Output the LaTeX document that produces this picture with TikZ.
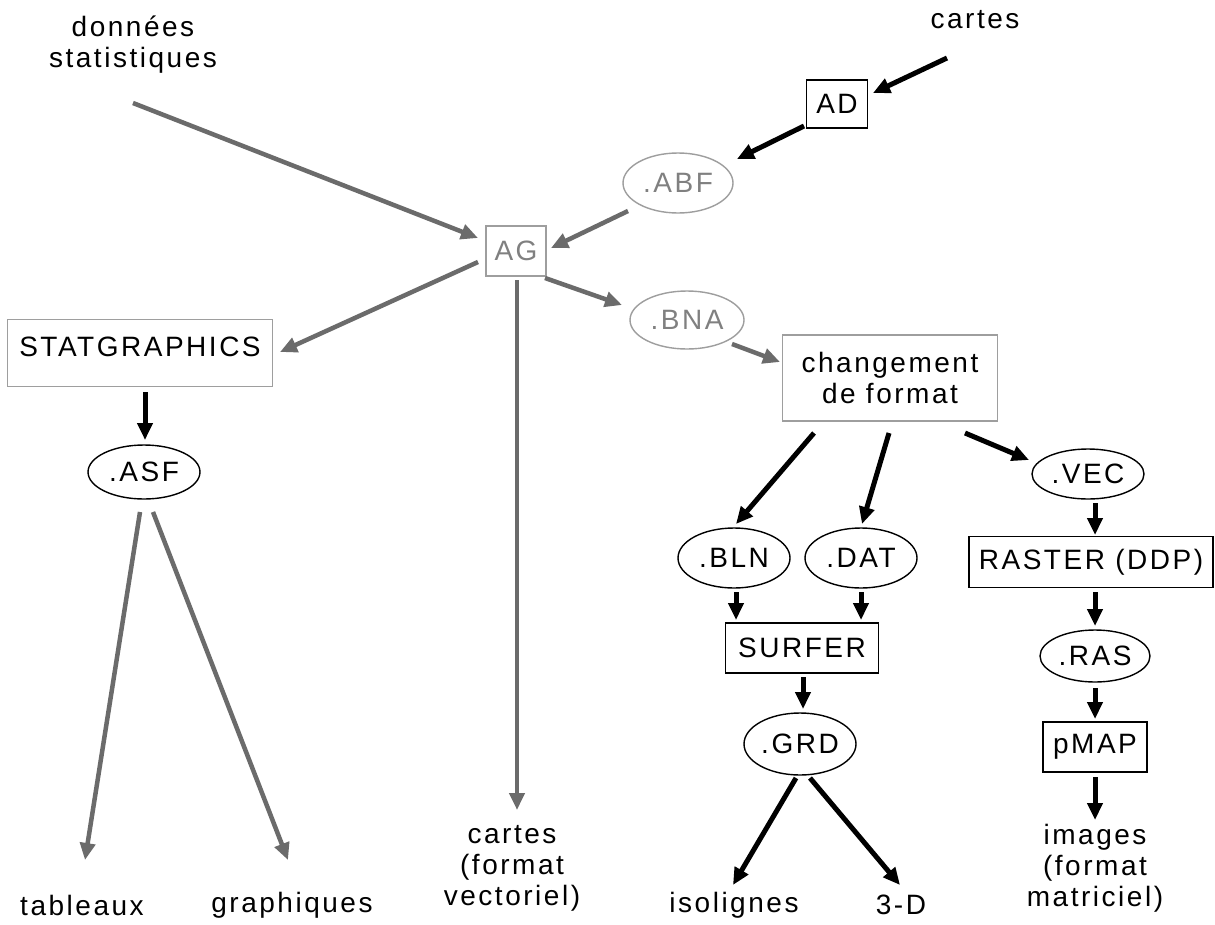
\documentclass[tikz,border=0pt]{standalone}
\usepackage{fontspec}
\setmainfont{Liberation Sans}[LetterSpace=9]
\usetikzlibrary{arrows.meta,shapes.geometric}
\definecolor{garrow}{gray}{0.42}
\definecolor{gline}{gray}{0.62}
\definecolor{gtext}{gray}{0.5}
\begin{document}
\begin{tikzpicture}[x=1pt,y=-1pt,
  fnt/.style={font=\fontsize{28}{31}\selectfont},
  txt/.style={fnt, align=center, inner sep=0pt},
  bbox/.style={fnt, rectangle, draw=black, line width=1.4pt, inner sep=0pt, align=center},
  gbox/.style={fnt, rectangle, draw=gline, line width=1.4pt, inner sep=0pt, align=center},
  bell/.style={fnt, ellipse, draw=black, line width=1.4pt, inner sep=0pt},
  gell/.style={fnt, ellipse, draw=gline, line width=1.4pt, text=gtext, inner sep=0pt},
  barr/.style={draw=black, line width=5pt, -{Triangle[length=17pt,width=15pt]}},
  garr/.style={draw=garrow, line width=4.5pt, -{Triangle[length=17pt,width=15pt]}}
]
\useasboundingbox[fill=white] (0,0) rectangle (1215,924);

% nodes
\node[txt] (donnees) at (133,45) {données\\statistiques};
\node[txt] (cartesT) at (975,20) {cartes};
\node[bbox, minimum width=61, minimum height=48] (AD) at (837,104) {AD};
\node[gell, minimum width=110, minimum height=60] (ABF) at (678,183) {.ABF};
\node[gbox, text=gtext, minimum width=60, minimum height=50] (AG) at (516,251) {AG};
\node[gbox, minimum width=265, minimum height=67, text height=22, text depth=16] (STAT) at (140,353) {STATGRAPHICS};
\node[bell, minimum width=112, minimum height=54] (ASF) at (144,472) {.ASF};
\node[txt] (tableaux) at (82,905) {tableaux};
\node[txt] (graphiques) at (292,905) {graphiques};
\node[txt] (cartesV) at (512,868) {cartes\\(format\\vectoriel)};
\node[gell, minimum width=114, minimum height=58] (BNA) at (687,320) {.BNA};
\node[gbox, minimum width=215, minimum height=86] (chg) at (890,378) {changement\\de format};
\node[bell, minimum width=112, minimum height=60] (BLN) at (734,558) {.BLN};
\node[bell, minimum width=112, minimum height=60] (DAT) at (861,558) {.DAT};
\node[bell, minimum width=112, minimum height=50] (VEC) at (1088,474) {.VEC};
\node[bbox, minimum width=153, minimum height=50] (SURFER) at (802,648) {SURFER};
\node[bell, minimum width=112, minimum height=62] (GRD) at (800,744) {.GRD};
\node[txt] (iso) at (734,905) {isolignes};
\node[txt] (troisD) at (901,905) {3-D};
\node[bbox, minimum width=244, minimum height=51] (RASTER) at (1091,562) {RASTER (DDP)};
\node[bell, minimum width=110, minimum height=52] (RAS) at (1095,656) {.RAS};
\node[bbox, minimum width=104, minimum height=50] (pMAP) at (1095,747) {pMAP};
\node[txt] (images) at (1095,868) {images\\(format\\matriciel)};

% connectors
\draw[garr] ([shift={(0,58)}]donnees.center) -- ([shift={(-38,-13)}]AG.center);
\draw[barr] ([shift={(-28,38)}]cartesT.center) -- ([shift={(36,-11)}]AD.center);
\draw[barr] ([shift={(-33,22)}]AD.center) -- ([shift={(59,-24)}]ABF.center);
\draw[garr] ([shift={(-50,28)}]ABF.center) -- ([shift={(35,-3)}]AG.center);
\draw[garr] ([shift={(-38,11)}]AG.center) -- ([shift={(140,-1)}]STAT.center);
\draw[garr] ([shift={(1,29)}]AG.center) -- ([shift={(5,-58)}]cartesV.center);
\draw[garr] ([shift={(29,27)}]AG.center) -- ([shift={(-65,-15)}]BNA.center);
\draw[garr] ([shift={(45,24)}]BNA.center) -- ([shift={(-110,-16)}]chg.center);
\draw[barr] ([shift={(5,39)}]STAT.center) -- ([shift={(1,-32)}]ASF.center);
\draw[garr] ([shift={(-4,40)}]ASF.center) -- ([shift={(3,-45)}]tableaux.center);
\draw[garr] ([shift={(9,40)}]ASF.center) -- ([shift={(-4,-45)}]graphiques.center);
\draw[barr] ([shift={(-76,55)}]chg.center) -- ([shift={(2,-34)}]BLN.center);
\draw[barr] ([shift={(-1,55)}]chg.center) -- ([shift={(1,-34)}]DAT.center);
\draw[barr] ([shift={(75,55)}]chg.center) -- ([shift={(-59,-14)}]VEC.center);
\draw[barr] ([shift={(2,34)}]BLN.center) -- ([shift={(-66,-28)}]SURFER.center);
\draw[barr] ([shift={(0,34)}]DAT.center) -- ([shift={(59,-28)}]SURFER.center);
\draw[barr] ([shift={(1,29)}]SURFER.center) -- ([shift={(3,-35)}]GRD.center);
\draw[barr] ([shift={(-4,34)}]GRD.center) -- ([shift={(-1,-20)}]iso.center);
\draw[barr] ([shift={(10,34)}]GRD.center) -- ([shift={(-1,-20)}]troisD.center);
\draw[barr] ([shift={(7,29)}]VEC.center) -- ([shift={(4,-27)}]RASTER.center);
\draw[barr] ([shift={(4,30)}]RASTER.center) -- ([shift={(0,-30)}]RAS.center);
\draw[barr] ([shift={(0,32)}]RAS.center) -- ([shift={(0,-28)}]pMAP.center);
\draw[barr] ([shift={(0,30)}]pMAP.center) -- ([shift={(0,-48)}]images.center);
\end{tikzpicture}
\end{document}
